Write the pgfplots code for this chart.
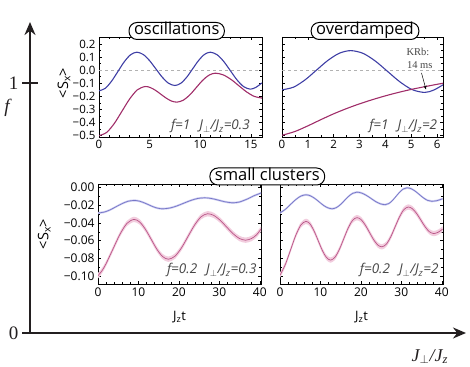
\documentclass[border=0pt]{standalone}
\usepackage{fontspec}
\setmainfont{Open Sans}
\newfontfamily\serif{Liberation Serif}
\usepackage{pgfplots}
\usepackage{pgfplotstable}
\pgfplotsset{compat=1.18}
\usepgfplotslibrary{fillbetween}
\usetikzlibrary{arrows.meta}

\definecolor{tblue}{RGB}{62,62,165}
\definecolor{tred}{RGB}{160,45,105}
\definecolor{bblue}{RGB}{118,118,200}
\definecolor{bblueband}{RGB}{205,205,240}
\definecolor{bred}{RGB}{185,85,135}
\definecolor{bredband}{RGB}{242,205,222}
\definecolor{axgray}{RGB}{35,31,32}
\definecolor{anngray}{RGB}{70,70,70}

\pgfplotstableread{
t y
0 -0.158
0.622 -0.138
1.243 -0.084
1.865 -0.0105
2.487 0.063
3.108 0.117
3.73 0.137
4.358 0.120
4.987 0.0735
5.615 0.010
6.243 -0.0535
6.872 -0.100
7.5 -0.117
8.083 -0.100
8.667 -0.0535
9.25 0.010
9.833 0.0735
10.417 0.120
11.0 0.137
11.658 0.118
12.317 0.0665
12.975 -0.004
13.633 -0.0745
14.292 -0.126
14.95 -0.145
15.5 -0.131
16.1 -0.097
}\tlBlue
\pgfplotstableread{
t y
0 -0.500
0.758 -0.475
1.517 -0.406
2.275 -0.3125
3.033 -0.219
3.792 -0.150
4.55 -0.125
5.075 -0.133
5.6 -0.155
6.125 -0.1845
6.65 -0.214
7.175 -0.236
7.7 -0.244
8.333 -0.229
8.967 -0.189
9.6 -0.1335
10.233 -0.078
10.867 -0.038
11.5 -0.023
12.267 -0.036
13.033 -0.0705
13.8 -0.118
14.567 -0.1655
15.333 -0.200
16.1 -0.213
}\tlRed
\pgfplotstableread{
t y
0 -0.150
0.443 -0.130
0.887 -0.075
1.33 -0.0005
1.773 0.074
2.217 0.129
2.66 0.149
3.137 0.128
3.613 0.069
4.09 -0.0105
4.567 -0.090
5.043 -0.149
5.52 -0.170
5.87 -0.152
6.23 -0.112
}\trBlue
\pgfplotstableread{
t y
0 -0.497
0.5 -0.468
1 -0.425
1.5 -0.378
2 -0.333
2.5 -0.293
3 -0.257
3.5 -0.225
4 -0.196
4.5 -0.170
5 -0.147
5.5 -0.127
6 -0.108
6.23 -0.100
}\trRed
\pgfplotstableread{
t y
0 -0.0288
1.483 -0.0278
2.967 -0.0253
4.45 -0.0217
5.933 -0.0182
7.417 -0.0155
8.9 -0.0146
10.083 -0.0152
11.267 -0.0170
12.45 -0.0193
13.633 -0.0217
14.817 -0.0234
16.0 -0.0240
17.717 -0.0232
19.433 -0.0209
21.15 -0.0178
22.867 -0.0147
24.583 -0.0124
26.3 -0.0116
27.5 -0.0120
28.7 -0.0130
29.9 -0.0144
31.1 -0.0158
32.3 -0.0168
33.5 -0.0172
35 -0.0163
37 -0.0128
38.5 -0.0094
40.3 -0.0062
}\blBlue
\pgfplotstableread{
t y
0 -0.0996
1.0 -0.0939
1.967 -0.0863
3.7 -0.0695
5.433 -0.0528
7.167 -0.0405
8.9 -0.0360
10.317 -0.0390
11.733 -0.0473
13.15 -0.0585
14.567 -0.0698
15.983 -0.0780
17.4 -0.0810
19.017 -0.0776
20.633 -0.0682
22.25 -0.0553
23.867 -0.0425
25.483 -0.0330
27.1 -0.0296
28.667 -0.0316
30.233 -0.0371
31.8 -0.0446
33.367 -0.0520
34.933 -0.0575
36.5 -0.0595
38.0 -0.0575
39.2 -0.0534
40.3 -0.0470
}\blRed
\pgfplotstableread{
t y
0 -0.0287
1.333 -0.0246
2.6 -0.0191
3.867 -0.0137
5.133 -0.0097
6.4 -0.0082
7.483 -0.0093
8.567 -0.0122
9.65 -0.0161
10.733 -0.0201
11.817 -0.0229
12.9 -0.0240
13.917 -0.0227
14.933 -0.0193
15.95 -0.0146
16.967 -0.0099
17.983 -0.0065
19.0 -0.0052
20.167 -0.0062
21.333 -0.0088
22.5 -0.0123
23.667 -0.0159
24.833 -0.0184
26.0 -0.0194
26.9 -0.0181
27.8 -0.0146
28.7 -0.0099
29.6 -0.0051
30.5 -0.0016
31.4 -0.0003
32.417 -0.0013
33.433 -0.0041
34.45 -0.0079
35.467 -0.0117
36.483 -0.0145
37.5 -0.0155
38.8 -0.0148
40.2 -0.0127
}\brBlue
\pgfplotstableread{
t y
0 -0.0991
1.333 -0.0868
2.6 -0.0706
3.867 -0.0544
5.133 -0.0425
6.4 -0.0382
7.417 -0.0411
8.433 -0.0492
9.45 -0.0601
10.467 -0.0711
11.483 -0.0790
12.5 -0.0820
13.583 -0.0788
14.667 -0.0700
15.75 -0.0580
16.833 -0.0460
17.917 -0.0372
19.0 -0.0340
20.033 -0.0362
21.067 -0.0423
22.1 -0.0505
23.133 -0.0588
24.167 -0.0649
25.2 -0.0670
26.283 -0.0640
27.367 -0.0558
28.45 -0.0445
29.533 -0.0333
30.617 -0.0250
31.7 -0.0220
32.75 -0.0240
33.8 -0.0295
34.85 -0.0370
35.9 -0.0445
36.95 -0.0500
38.0 -0.0520
39.1 -0.0505
40.2 -0.0470
}\brRed

\pgfplotsset{
  panel/.style={
    scale only axis, height=100pt,
    axis line style={line width=0.9pt, black},
    tick align=inside, major tick length=3pt, minor tick length=1.6pt,
    tick style={black, line width=0.5pt},
    /pgf/number format/assume math mode=true,
    ticklabel style={font=\fontsize{11.5}{13}\selectfont},
    ylabel style={font=\fontsize{14.5}{16}\selectfont, anchor=center},
    xlabel style={font=\fontsize{13}{15}\selectfont, anchor=center},
  },
  toppanel/.style={panel, ymin=-0.51, ymax=0.253,
    ytick={-0.5,-0.4,-0.3,-0.2,-0.1,0,0.1,0.2}, minor y tick num=1},
  botpanel/.style={panel, xmin=0, xmax=40.3, ymin=-0.109, ymax=0.004,
    xtick={0,10,20,30,40}, minor x tick num=4,
    ytick={-0.10,-0.08,-0.06,-0.04,-0.02,0}, minor y tick num=1,
    ticklabel style={font=\fontsize{12}{14}\selectfont},
    xlabel={J\textsubscript{z}t},
    xlabel style={at={(axis description cs:0.5,-0.33)}}},
}
\tikzset{ann/.style={font=\fontsize{13.5}{15}\selectfont\itshape, text=anngray, anchor=base east, inner sep=0pt}}

\begin{document}
\begin{tikzpicture}[x=1pt,y=1pt]
% big axis
\begin{axis}[at={(30pt,33pt)}, anchor=south west, scale only axis,
  width=436pt, height=311pt, xmin=0, xmax=1, ymin=0, ymax=1.244,
  axis lines=left,
  axis line style={line width=2.6pt, color=axgray, -{Stealth[length=13pt,width=11pt]}},
  xtick=\empty, ytick={0,1}, yticklabels={0,1},
  tick align=center, major tick length=16pt,
  tick style={line width=2.4pt, color=axgray},
  /pgf/number format/assume math mode=true,
  yticklabel style={font=\serif\fontsize{19}{21}\selectfont, text=axgray},
  ylabel={\serif\itshape f},
  ylabel style={rotate=-90, font=\fontsize{19}{21}\selectfont, text=axgray, at={(axis description cs:-0.053,0.7235)}, anchor=center},
  xlabel={\serif\itshape J\textsubscript{$\perp$}/J\textsubscript{z}},
  xlabel style={font=\fontsize{18}{20}\selectfont, text=axgray, at={(axis description cs:0.917,-0.076)}, anchor=center},
]
\end{axis}

% top-left: oscillations
\begin{axis}[toppanel, at={(99pt,229pt)}, anchor=south west, width=163pt,
  xmin=0, xmax=16.1, xtick={0,5,10,15}, minor x tick num=4,
  yticklabels={−0.5,−0.4,−0.3,−0.2,−0.1,0.0,0.1,0.2},
  ylabel={<S\textsubscript{x}>},
  ylabel style={at={(axis description cs:-0.215,0.54)}}]
\addplot[gray!60, dashed, line width=0.5pt] coordinates {(0,0) (16.1,0)};
\addplot[tblue, line width=1.1pt, smooth] table[x=t,y=y] {\tlBlue};
\addplot[tred, line width=1.1pt, smooth] table[x=t,y=y] {\tlRed};
\node[ann] at (rel axis cs:0.926,0.07) {f=1\hspace{9pt}J\textsubscript{$\perp$}/J\textsubscript{z}=0.3};
\end{axis}

% top-right: overdamped
\begin{axis}[toppanel, at={(282pt,229pt)}, anchor=south west, width=161pt,
  xmin=0, xmax=6.23, xtick={0,1,2,3,4,5,6}, minor x tick num=1,
  yticklabels={}]
\addplot[gray!60, dashed, line width=0.5pt] coordinates {(0,0) (6.23,0)};
\addplot[tblue, line width=1.1pt, smooth] table[x=t,y=y] {\trBlue};
\addplot[tred, line width=1.1pt, smooth] table[x=t,y=y] {\trRed};
\node[ann] at (rel axis cs:0.965,0.07) {f=1\hspace{9pt}J\textsubscript{$\perp$}/J\textsubscript{z}=2};
\end{axis}

% bottom-left
\begin{axis}[botpanel, at={(98pt,82pt)}, anchor=south west, width=163pt,
  yticklabels={−0.10,−0.08,−0.06,−0.04,−0.02,0.00},
  ylabel={<S\textsubscript{x}>},
  ylabel style={at={(axis description cs:-0.33,0.5)}}]
\addplot[name path=blbu, draw=none, smooth] table[x=t, y expr=\thisrow{y}+0.0012] {\blBlue};
\addplot[name path=blbl, draw=none, smooth] table[x=t, y expr=\thisrow{y}-0.0012] {\blBlue};
\addplot[bblueband] fill between[of=blbu and blbl];
\addplot[bblue, line width=0.7pt, smooth] table[x=t,y=y] {\blBlue};
\addplot[name path=blru, draw=none, smooth] table[x=t, y expr=\thisrow{y}+0.003] {\blRed};
\addplot[name path=blrl, draw=none, smooth] table[x=t, y expr=\thisrow{y}-0.003] {\blRed};
\addplot[bredband] fill between[of=blru and blrl];
\addplot[bred, line width=0.7pt, smooth] table[x=t,y=y] {\blRed};
\node[ann] at (rel axis cs:0.974,0.10) {f=0.2\hspace{9pt}J\textsubscript{$\perp$}/J\textsubscript{z}=0.3};
\end{axis}

% bottom-right
\begin{axis}[botpanel, at={(280pt,82pt)}, anchor=south west, width=163pt,
  yticklabels={}]
\addplot[name path=brbu, draw=none, smooth] table[x=t, y expr=\thisrow{y}+0.0012] {\brBlue};
\addplot[name path=brbl, draw=none, smooth] table[x=t, y expr=\thisrow{y}-0.0012] {\brBlue};
\addplot[bblueband] fill between[of=brbu and brbl];
\addplot[bblue, line width=0.7pt, smooth] table[x=t,y=y] {\brBlue};
\addplot[name path=brru, draw=none, smooth] table[x=t, y expr=\thisrow{y}+0.003] {\brRed};
\addplot[name path=brrl, draw=none, smooth] table[x=t, y expr=\thisrow{y}-0.003] {\brRed};
\addplot[bredband] fill between[of=brru and brrl];
\addplot[bred, line width=0.7pt, smooth] table[x=t,y=y] {\brRed};
\node[ann] at (rel axis cs:0.974,0.10) {f=0.2\hspace{9pt}J\textsubscript{$\perp$}/J\textsubscript{z}=2};
\end{axis}

% KRb annotation
\node[font=\serif\fontsize{10.5}{12}\selectfont, text=anngray, inner sep=0pt] at (418pt,314.3pt) {KRb:};
\node[font=\serif\fontsize{10.5}{12}\selectfont, text=anngray, inner sep=0pt] at (419.7pt,301pt) {14 ms};
\draw[black, line width=0.5pt, -{Stealth[length=4pt,width=3pt]}] (421.5pt,293pt) -- (426pt,276.5pt);

% title boxes
\tikzset{tbox/.style={draw=black, fill=white, line width=1pt, rounded corners=8pt,
  inner xsep=5pt, inner ysep=1pt, text height=11.5pt, text depth=3.5pt,
  font=\fontsize{16.5}{18}\selectfont}}
\node[tbox] at (176.7pt,335pt) {oscillations};
\node[tbox] at (365pt,335pt) {overdamped};
\node[tbox] at (267.3pt,189.5pt) {small clusters};

\pgfresetboundingbox
\useasboundingbox (0,0) rectangle (470pt,366pt);
\end{tikzpicture}
\end{document}
